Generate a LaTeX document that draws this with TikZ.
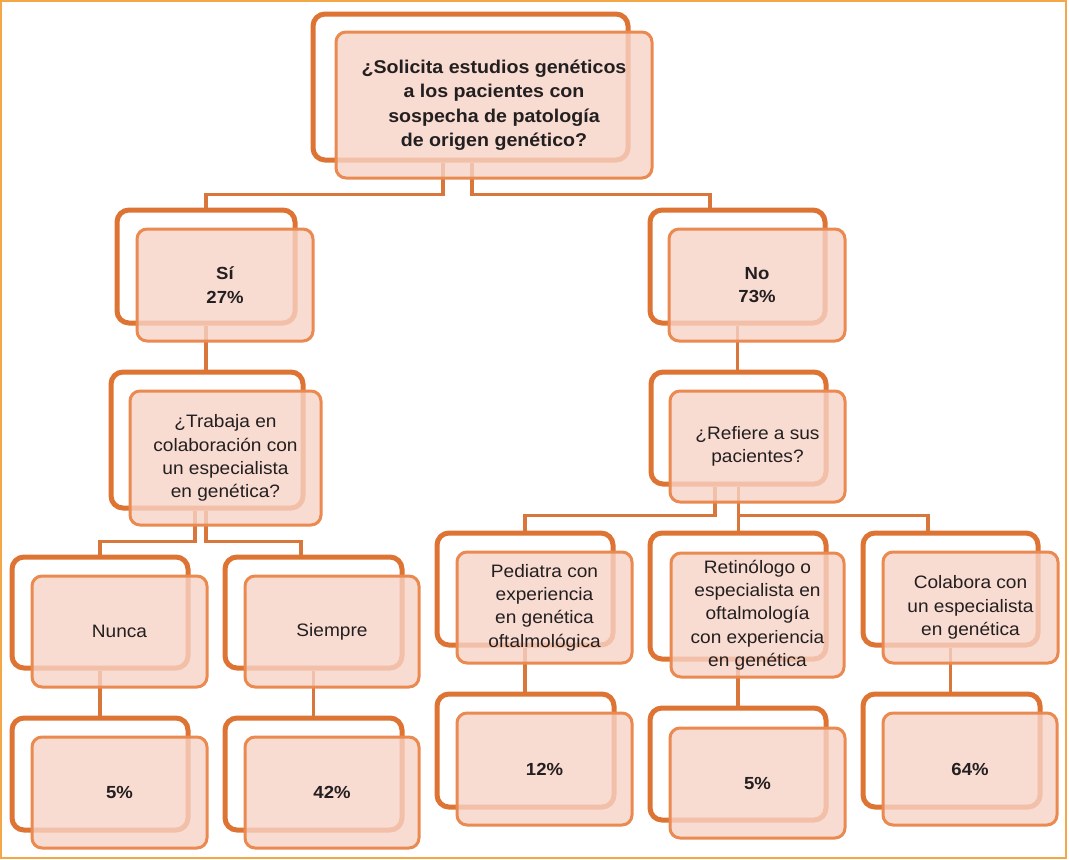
\documentclass[tikz,border=0pt]{standalone}
\usepackage{fontspec}
\setmainfont{Liberation Sans}[FakeStretch=1.06]
\begin{document}
\begin{tikzpicture}[x=1pt,y=-1pt,
  backbox/.style={draw=backc,line width=5pt,rounded corners=12pt,fill=white,inner sep=0pt},
  frontbox/.style={draw=frontc,line width=3pt,rounded corners=10pt,fill=fillc,fill opacity=0.8,text opacity=1,inner sep=2pt,align=center,text=txt,font=\fontsize{18}{23.3}\selectfont},
  boldtxt/.style={font=\fontsize{17.5}{23.5}\selectfont\bfseries},
  roottxt/.style={font=\fontsize{18.5}{24.5}\selectfont\bfseries},
  conn/.style={draw=connc,line width=3.5pt}]
\definecolor{backc}{HTML}{DE7434}
\definecolor{frontc}{HTML}{EB8A50}
\definecolor{fillc}{HTML}{F7D3C6}
\definecolor{connc}{HTML}{D9763B}
\definecolor{framec}{HTML}{F3A747}
\definecolor{txt}{HTML}{231F20}
\useasboundingbox (0,0) rectangle (1069,860);
\fill[white] (0,0) rectangle (1069,860);
\draw[framec,line width=2pt] (1,1) rectangle (1066,858);
% back boxes
\node[backbox,minimum width=315,minimum height=146] (rootB) at (470.5,87) {};
\node[backbox,minimum width=178,minimum height=113] (siB) at (206,266.5) {};
\node[backbox,minimum width=175,minimum height=113] (noB) at (737.5,266.5) {};
\node[backbox,minimum width=192,minimum height=136] (trB) at (207,440) {};
\node[backbox,minimum width=175,minimum height=112] (refB) at (738.5,428) {};
\node[backbox,minimum width=176,minimum height=111] (nunB) at (100,612.5) {};
\node[backbox,minimum width=177,minimum height=111] (sieB) at (313.5,612.5) {};
\node[backbox,minimum width=176,minimum height=112] (pedB) at (525,589) {};
\node[backbox,minimum width=176,minimum height=126] (retB) at (738,596) {};
\node[backbox,minimum width=175,minimum height=112] (colB) at (950.5,589) {};
\node[backbox,minimum width=176,minimum height=112] (p5lB) at (100,774) {};
\node[backbox,minimum width=177,minimum height=112] (p42B) at (313.5,774) {};
\node[backbox,minimum width=177,minimum height=113] (p12B) at (525.5,750.5) {};
\node[backbox,minimum width=176,minimum height=112] (p5rB) at (738,764) {};
\node[backbox,minimum width=177,minimum height=113] (p64B) at (951.5,750.5) {};
% connectors
\draw[conn] ([xshift=-27.5]rootB.south) -- ++(0,32) -| (siB.north);
\draw[conn] ([xshift=1.5]rootB.south) -- ++(0,32) -| ([xshift=-27.5]noB.north);
\draw[conn] (siB.south) -- (siB.south |- trB.north);
\draw[conn] (noB.south) -- (noB.south |- refB.north);
\draw[conn] ([xshift=-12]trB.south) -- ++(0,31) -| (nunB.north);
\draw[conn] ([xshift=-1]trB.south) -- ++(0,31) -| ([xshift=-12.5]sieB.north);
\draw[conn] ([xshift=-23.5]refB.south) -- ++(0,29) -| (pedB.north);
\draw[conn] (refB.south) -- (refB.south |- retB.north);
\draw[conn] ([yshift=-29]refB.south) -| ([xshift=-22.5]colB.north);
\draw[conn] (nunB.south) -- (nunB.south |- p5lB.north);
\draw[conn] (sieB.south) -- (sieB.south |- p42B.north);
\draw[conn] (pedB.south) -- (pedB.south |- p12B.north);
\draw[conn] (retB.south) -- (retB.south |- p5rB.north);
\draw[conn] (colB.south) -- (colB.south |- p64B.north);
% front boxes
\node[frontbox,roottxt,minimum width=316,minimum height=146] (root) at (494,105) {¿Solicita estudios genéticos\\a los pacientes con\\sospecha de patología\\de origen genético?};
\node[frontbox,boldtxt,minimum width=176,minimum height=112] (si) at (225,285) {Sí\\27\%};
\node[frontbox,boldtxt,minimum width=176,minimum height=112] (no) at (757,285) {No\\73\%};
\node[frontbox,minimum width=191,minimum height=134] (tr) at (225.5,458) {¿Trabaja en\\colaboración con\\un especialista\\en genética?};
\node[frontbox,minimum width=175,minimum height=111] (ref) at (757.5,446.5) {¿Refiere a sus\\pacientes?};
\node[frontbox,minimum width=175,minimum height=111] (nun) at (119.5,631.5) {Nunca};
\node[frontbox,minimum width=174,minimum height=111] (sie) at (332,631.5) {Siempre};
\node[frontbox,minimum width=175,minimum height=111] (ped) at (544.5,607.5) {Pediatra con\\experiencia\\en genética\\oftalmológica};
\node[frontbox,minimum width=173,minimum height=124] (ret) at (757.5,615) {Retinólogo o\\especialista en\\oftalmología\\con experiencia\\en genética};
\node[frontbox,minimum width=175,minimum height=111] (col) at (970.5,607.5) {Colabora con\\un especialista\\en genética};
\node[frontbox,boldtxt,minimum width=175,minimum height=111] (p5l) at (119.5,792.5) {5\%};
\node[frontbox,boldtxt,minimum width=174,minimum height=111] (p42) at (332,792.5) {42\%};
\node[frontbox,boldtxt,minimum width=175,minimum height=112] (p12) at (544.5,769) {12\%};
\node[frontbox,boldtxt,minimum width=175,minimum height=110] (p5r) at (757.5,783) {5\%};
\node[frontbox,boldtxt,minimum width=174,minimum height=112] (p64) at (970,769) {64\%};
\end{tikzpicture}
\end{document}
